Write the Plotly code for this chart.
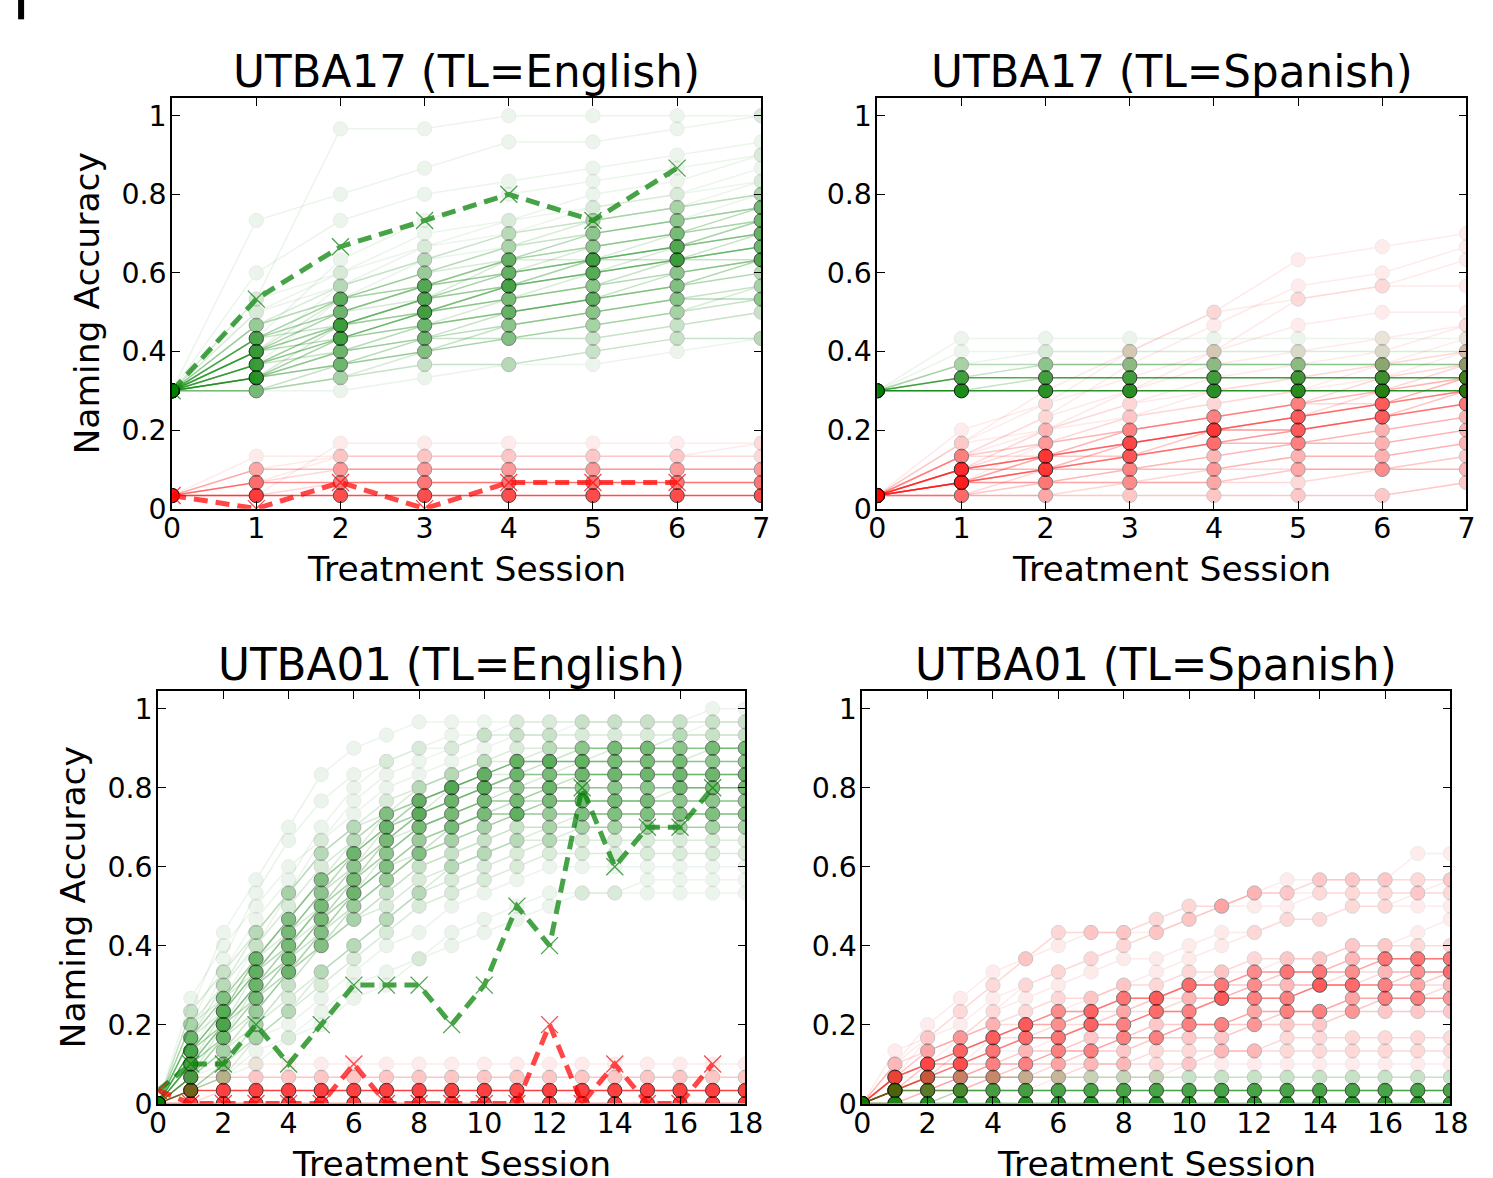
import plotly.graph_objects as go

N_ITEMS = 30  # values below are items named correctly out of 30

# ---------------- UTBA17, TL = English ----------------
A_SESSIONS = list(range(8))
A_GREEN_SIMS = [
    [9, 9, 10, 11, 11, 12, 13, 13],
    [9, 9, 11, 12, 13, 13, 14, 15],
    [9, 10, 11, 13, 14, 15, 16, 16],
    [9, 10, 12, 14, 15, 16, 17, 18],
    [9, 11, 13, 14, 15, 16, 17, 19],
    [9, 11, 12, 13, 13, 14, 15, 16],
    [9, 12, 13, 15, 16, 17, 18, 19],
    [9, 12, 14, 16, 17, 18, 19, 20],
    [9, 13, 14, 15, 17, 19, 19, 21],
    [9, 13, 15, 17, 18, 19, 20, 22],
    [9, 10, 13, 15, 16, 17, 19, 20],
    [9, 11, 14, 16, 18, 19, 20, 21],
    [9, 12, 15, 17, 19, 19, 21, 22],
    [9, 14, 16, 17, 19, 20, 21, 23],
    [9, 14, 16, 18, 19, 21, 22, 23],
    [9, 15, 17, 19, 20, 21, 22, 24],
    [9, 15, 18, 20, 21, 22, 23, 25],
    [9, 16, 18, 21, 22, 23, 24, 25],
    [9, 10, 11, 12, 14, 15, 16, 17],
    [9, 9, 10, 12, 13, 14, 15, 17],
    [9, 18, 22, 24, 25, 26, 27, 28],
    [9, 22, 24, 26, 28, 28, 29, 30],
    [9, 13, 19, 22, 24, 25, 26, 27],
    [9, 11, 16, 19, 21, 23, 24, 26],
    [9, 12, 17, 20, 22, 24, 25, 27],
    [9, 10, 12, 13, 15, 16, 18, 19],
    [9, 9, 9, 10, 11, 11, 12, 13],
    [9, 16, 29, 29, 30, 30, 30, 30],
    [9, 13, 16, 18, 20, 22, 23, 24],
    [9, 11, 13, 15, 17, 18, 19, 19],
    [9, 12, 15, 17, 19, 20, 21, 22],
    [9, 13, 16, 17, 18, 19, 20, 21],
    [9, 11, 14, 15, 17, 18, 19, 20],
    [9, 12, 14, 16, 18, 20, 21, 23],
    [9, 10, 13, 14, 16, 18, 20, 22],
    [9, 13, 15, 16, 19, 21, 22, 23],
    [9, 14, 17, 19, 21, 22, 23, 24],
    [9, 10, 14, 16, 17, 19, 20, 21],
    [9, 12, 16, 18, 20, 21, 22, 23],
]
A_GREEN_COUNTS = [3, 3, 4, 4, 4, 3, 4, 4, 3, 3, 3, 3, 2, 2, 2, 1, 1, 1, 3, 2,
                  1, 1, 1, 1, 1, 3, 1, 1, 2, 3, 3, 3, 3, 2, 2, 2, 2, 2, 2]
A_RED_SIMS = [
    [1, 1, 1, 1, 1, 1, 1, 1],
    [1, 2, 2, 2, 2, 2, 2, 2],
    [1, 3, 3, 3, 3, 3, 3, 3],
    [1, 1, 2, 2, 2, 2, 2, 2],
    [1, 4, 4, 4, 4, 4, 4, 4],
    [1, 2, 3, 3, 3, 3, 3, 3],
    [1, 3, 4, 4, 4, 4, 4, 4],
    [1, 1, 5, 5, 5, 5, 5, 5],
    [1, 2, 4, 4, 4, 4, 4, 5],
]
A_RED_COUNTS = [14, 7, 4, 2, 1, 2, 1, 1, 1]
A_ACTUAL_SESSIONS = list(range(7))
A_GREEN_ACTUAL = [9, 16, 20, 22, 24, 22, 26]
A_RED_ACTUAL = [1, 0, 2, 0, 2, 2, 2]

# ---------------- UTBA17, TL = Spanish ----------------
B_SESSIONS = list(range(8))
B_GREEN_SIMS = [
    [9, 9, 9, 9, 9, 9, 9, 9],
    [9, 10, 10, 10, 10, 10, 10, 10],
    [9, 9, 10, 10, 10, 10, 10, 10],
    [9, 11, 11, 11, 11, 11, 11, 11],
    [9, 10, 11, 11, 11, 11, 11, 11],
    [9, 12, 12, 12, 12, 12, 12, 12],
    [9, 11, 12, 12, 12, 12, 12, 12],
    [9, 13, 13, 13, 13, 13, 13, 13],
]
B_GREEN_COUNTS = [22, 13, 3, 4, 3, 1, 1, 1]
B_RED_SIMS = [
    [1, 1, 1, 1, 1, 1, 1, 2],
    [1, 1, 2, 2, 2, 3, 3, 4],
    [1, 2, 2, 3, 3, 4, 4, 5],
    [1, 2, 3, 3, 4, 5, 5, 6],
    [1, 3, 3, 4, 5, 5, 6, 7],
    [1, 3, 4, 4, 5, 6, 7, 8],
    [1, 2, 3, 4, 6, 6, 7, 8],
    [1, 3, 4, 5, 6, 7, 8, 9],
    [1, 4, 4, 5, 6, 7, 8, 10],
    [1, 2, 4, 6, 7, 8, 8, 9],
    [1, 4, 5, 6, 7, 8, 9, 10],
    [1, 1, 3, 5, 6, 7, 9, 10],
    [1, 3, 5, 6, 7, 8, 10, 11],
    [1, 4, 6, 7, 8, 9, 10, 12],
    [1, 5, 6, 8, 9, 10, 11, 13],
    [1, 2, 5, 7, 9, 10, 11, 12],
    [1, 3, 6, 8, 10, 11, 12, 14],
    [1, 4, 7, 9, 11, 12, 13, 14],
    [1, 5, 8, 10, 12, 14, 15, 15],
    [1, 6, 8, 12, 15, 16, 17, 19],
    [1, 5, 9, 12, 15, 19, 20, 21],
    [1, 4, 7, 11, 14, 17, 18, 20],
    [1, 3, 6, 9, 12, 16, 17, 17],
    [1, 2, 2, 2, 3, 3, 3, 3],
    [1, 1, 1, 2, 2, 2, 3, 3],
    [1, 2, 3, 4, 5, 6, 7, 8],
    [1, 3, 4, 5, 6, 6, 7, 9],
    [1, 2, 4, 5, 6, 7, 8, 9],
    [1, 3, 4, 6, 7, 8, 9, 11],
    [1, 2, 3, 5, 6, 7, 8, 10],
    [1, 4, 5, 7, 8, 9, 11, 12],
]
B_RED_COUNTS = [3, 3, 4, 4, 4, 3, 3, 3, 2, 2, 2, 2, 2, 1, 1, 1, 1, 1, 1, 1,
                1, 1, 1, 2, 2, 3, 3, 3, 2, 2, 1]

# ---------------- UTBA01, TL = English ----------------
C_SESSIONS = list(range(19))
C_GREEN_SIMS = [
    [0, 3, 6, 9, 12, 15, 17, 19, 21, 22, 23, 24, 24, 25, 25, 25, 25, 25, 25],
    [0, 4, 7, 10, 13, 16, 18, 20, 22, 23, 24, 25, 26, 26, 26, 26, 26, 26, 26],
    [0, 5, 8, 11, 14, 17, 19, 21, 23, 24, 25, 26, 26, 27, 27, 27, 27, 27, 27],
    [0, 6, 9, 12, 15, 18, 20, 22, 23, 24, 25, 25, 25, 26, 26, 26, 26, 26, 26],
    [0, 2, 5, 8, 11, 14, 16, 18, 20, 21, 22, 22, 23, 23, 23, 23, 23, 23, 23],
    [0, 3, 5, 7, 10, 12, 15, 17, 19, 21, 22, 23, 24, 24, 24, 24, 24, 24, 24],
    [0, 4, 6, 9, 11, 13, 16, 18, 20, 21, 22, 22, 22, 22, 22, 22, 22, 22, 22],
    [0, 5, 7, 10, 12, 14, 17, 19, 21, 22, 23, 23, 24, 24, 24, 24, 24, 24, 24],
    [0, 7, 10, 13, 16, 19, 21, 23, 24, 25, 26, 27, 27, 27, 27, 27, 28, 28, 28],
    [0, 8, 12, 15, 18, 20, 22, 24, 25, 26, 27, 28, 28, 28, 28, 28, 28, 29, 29],
    [0, 3, 7, 11, 14, 17, 20, 22, 24, 25, 26, 26, 26, 26, 27, 27, 27, 27, 27],
    [0, 1, 3, 6, 9, 12, 14, 16, 18, 19, 20, 21, 21, 21, 21, 21, 21, 21, 21],
    [0, 2, 4, 7, 10, 13, 15, 17, 19, 20, 21, 22, 22, 22, 22, 22, 22, 22, 22],
    [0, 1, 2, 5, 7, 10, 12, 14, 16, 17, 18, 19, 20, 20, 20, 20, 20, 20, 20],
    [0, 2, 4, 6, 8, 10, 12, 14, 16, 18, 19, 20, 20, 21, 21, 21, 21, 21, 21],
    [0, 1, 3, 5, 7, 9, 11, 13, 15, 16, 17, 18, 19, 19, 19, 19, 19, 19, 19],
    [0, 2, 3, 5, 6, 8, 10, 12, 13, 15, 16, 17, 18, 18, 18, 18, 18, 18, 18],
    [0, 1, 2, 4, 5, 7, 9, 10, 11, 13, 14, 15, 16, 16, 16, 17, 17, 17, 17],
    [0, 4, 8, 12, 16, 20, 23, 25, 26, 27, 28, 28, 28, 29, 29, 29, 29, 29, 29],
    [0, 6, 11, 16, 20, 23, 25, 26, 27, 28, 28, 29, 29, 29, 29, 29, 29, 29, 29],
    [0, 5, 10, 14, 17, 21, 24, 26, 27, 27, 28, 28, 28, 28, 28, 28, 28, 28, 28],
    [0, 3, 6, 10, 13, 16, 19, 21, 23, 24, 25, 26, 27, 27, 27, 27, 27, 27, 27],
    [0, 4, 7, 11, 14, 17, 19, 21, 22, 23, 24, 25, 25, 25, 25, 25, 25, 25, 25],
    [0, 2, 5, 9, 12, 15, 18, 20, 22, 23, 24, 24, 25, 25, 25, 25, 25, 25, 25],
    [0, 3, 6, 8, 11, 14, 16, 18, 19, 20, 21, 22, 23, 23, 23, 23, 24, 24, 24],
    [0, 5, 9, 13, 16, 19, 21, 22, 23, 24, 25, 26, 26, 26, 26, 26, 26, 27, 27],
    [0, 1, 2, 3, 5, 6, 8, 9, 11, 12, 13, 14, 15, 16, 16, 16, 16, 16, 16],
    [0, 7, 13, 17, 21, 25, 27, 28, 29, 29, 29, 29, 29, 29, 29, 29, 29, 30, 30],
    [0, 4, 7, 10, 12, 15, 18, 21, 22, 24, 25, 26, 26, 26, 26, 26, 26, 26, 26],
    [0, 5, 8, 11, 13, 16, 19, 22, 23, 24, 24, 24, 24, 24, 24, 24, 24, 24, 24],
    [0, 6, 8, 10, 13, 15, 17, 20, 21, 22, 23, 23, 23, 23, 23, 23, 23, 23, 23],
    [0, 3, 5, 8, 10, 13, 16, 19, 21, 22, 23, 23, 23, 23, 23, 23, 23, 23, 23],
    [0, 2, 6, 9, 11, 14, 17, 20, 22, 23, 24, 25, 25, 25, 25, 25, 25, 25, 25],
    [0, 4, 6, 8, 10, 12, 14, 15, 17, 18, 19, 20, 21, 22, 22, 22, 22, 22, 22],
]
C_GREEN_COUNTS = [3, 3, 3, 2, 3, 3, 3, 2, 2, 1, 2, 3, 3, 2, 2, 2, 1, 1, 1, 1,
                  1, 2, 3, 2, 2, 2, 1, 1, 2, 2, 2, 2, 2, 2]
C_RED_SIMS = [
    [0] * 19,
    [0] + [1] * 18,
    [0, 0, 1] + [1] * 16,
    [0] + [2] * 18,
    [0, 1] + [2] * 17,
    [0] + [3] * 18,
]
C_RED_COUNTS = [14, 12, 2, 2, 1, 1]
C_ACTUAL_SESSIONS = list(range(18))
C_GREEN_ACTUAL = [1, 3, 3, 6, 3, 6, 9, 9, 9, 6, 9, 15, 12, 24, 18, 21, 21, 24]
C_RED_ACTUAL = [1, 0, 0, 0, 0, 0, 3, 0, 0, 0, 0, 0, 6, 0, 3, 0, 0, 3]

# ---------------- UTBA01, TL = Spanish ----------------
D_SESSIONS = list(range(19))
D_RED_SIMS = [
    [0, 1, 2, 3, 4, 5, 5, 6, 6, 7, 7, 8, 8, 8, 9, 9, 9, 10, 10],
    [0, 1, 1, 2, 2, 3, 3, 4, 4, 5, 5, 5, 6, 6, 6, 7, 7, 7, 7],
    [0, 2, 3, 3, 4, 5, 5, 6, 6, 7, 7, 8, 8, 8, 9, 9, 9, 9, 10],
    [0, 2, 3, 4, 5, 6, 6, 7, 8, 8, 9, 9, 9, 10, 10, 10, 11, 11, 11],
    [0, 1, 2, 2, 3, 3, 4, 4, 5, 5, 6, 6, 6, 7, 7, 7, 8, 8, 8],
    [0, 2, 4, 5, 6, 7, 8, 8, 9, 9, 10, 10, 11, 11, 11, 12, 12, 12, 12],
    [0, 3, 4, 5, 6, 6, 7, 7, 8, 8, 9, 9, 10, 10, 10, 11, 11, 11, 11],
    [0, 1, 2, 3, 3, 4, 4, 5, 5, 6, 6, 6, 7, 7, 7, 8, 8, 8, 8],
    [0, 0, 1, 2, 3, 3, 4, 4, 5, 5, 6, 6, 7, 7, 7, 8, 8, 8, 9],
    [0, 1, 1, 1, 2, 2, 3, 3, 3, 4, 4, 4, 4, 5, 5, 5, 5, 5, 5],
    [0, 0, 1, 1, 2, 2, 2, 3, 3, 3, 3, 4, 4, 4, 4, 4, 4, 4, 4],
    [0, 1, 2, 3, 4, 4, 5, 6, 7, 8, 9, 10, 10, 11, 11, 12, 12, 13, 14],
    [0, 2, 4, 5, 7, 8, 9, 10, 11, 11, 12, 13, 13, 14, 14, 15, 15, 15, 15],
    [0, 3, 5, 6, 8, 9, 10, 11, 12, 13, 14, 15, 15, 15, 16, 16, 16, 16, 17],
    [0, 4, 5, 7, 9, 11, 13, 13, 13, 13, 14, 15, 16, 16, 17, 17, 17, 17, 17],
    [0, 1, 3, 5, 7, 9, 10, 11, 12, 13, 14, 15, 16, 16, 17, 17, 17, 17, 17],
    [0, 2, 5, 7, 9, 11, 13, 13, 13, 14, 15, 15, 16, 17, 17, 17, 17, 19, 19],
    [0, 3, 6, 8, 10, 11, 12, 13, 13, 14, 15, 15, 16, 16, 16, 16, 16, 16, 16],
    [0, 1, 2, 4, 5, 6, 7, 7, 8, 8, 9, 9, 10, 10, 10, 11, 11, 11, 11],
    [0, 2, 3, 3, 4, 5, 5, 6, 6, 7, 7, 8, 8, 8, 9, 9, 9, 9, 9],
    [0, 0, 0, 1, 1, 1, 2, 2, 2, 2, 3, 3, 3, 3, 3, 3, 3, 3, 3],
    [0, 1, 2, 3, 5, 6, 7, 8, 9, 10, 11, 12, 13, 14, 14, 15, 15, 16, 16],
    [0, 2, 3, 4, 5, 6, 6, 7, 7, 8, 8, 8, 9, 9, 9, 10, 10, 10, 10],
    [0, 1, 3, 4, 5, 5, 6, 6, 7, 7, 8, 8, 9, 9, 9, 9, 10, 10, 10],
    [0, 2, 3, 4, 5, 6, 7, 7, 8, 8, 9, 9, 10, 10, 10, 10, 11, 11, 11],
]
D_RED_COUNTS = [3, 3, 3, 3, 3, 2, 2, 3, 2, 2, 2, 1, 1, 1, 1, 1, 1, 1, 2, 2,
                1, 1, 2, 2, 2]
D_GREEN_SIMS = [
    [0] * 19,
    [0] + [1] * 18,
    [0, 0, 0] + [1] * 16,
    [0, 1] + [2] * 17,
    [0] + [2] * 18,
]
D_GREEN_COUNTS = [20, 12, 3, 2, 1]

TITLES = ["UTBA17 (TL=English)", "UTBA17 (TL=Spanish)",
          "UTBA01 (TL=English)", "UTBA01 (TL=Spanish)"]
X_LABEL = "Treatment Session"
Y_LABEL = "Naming Accuracy"
Y_TICKS = [0, 0.2, 0.4, 0.6, 0.8, 1.0]
Y_TICK_TEXT = ["0", "0.2", "0.4", "0.6", "0.8", "1"]

# ---------------- styling / layout ----------------
W, H = 1493, 1178
GREEN = "#008000"
RED = "#ff0000"
BASE_ALPHA = 0.08
FONT = "DejaVu Sans"
# correction for the rendering scale observed in the photographed page
SX, AX = 0.9817, 8.9
SY, AY = 0.989, -3.4
FS = 1 / 0.985

# axes boxes in target pixels: left, right, top, bottom
BOXES = [(172, 761, 95, 507), (877, 1466, 95, 507),
         (158, 745, 690, 1104), (862, 1450, 690, 1104)]
XMAX = [7, 7, 18, 18]
DTICK = [1, 1, 2, 2]


def px_x(x):
    return ((x - AX) / SX) / W


def px_y(y):
    return 1 - ((y - AY) / SY) / H


fig = go.Figure()


def add_sims(idx, sessions, sims, counts, color):
    ax = "" if idx == 0 else str(idx + 1)
    for traj, c in zip(sims, counts):
        op = 1 - (1 - BASE_ALPHA) ** c
        fig.add_trace(go.Scatter(
            x=sessions, y=[v / N_ITEMS for v in traj], mode="lines+markers",
            line=dict(color=color, width=1.5),
            marker=dict(size=14 * FS, color=color, line=dict(color="black", width=1)),
            opacity=op, showlegend=False, hoverinfo="skip",
            xaxis="x" + ax, yaxis="y" + ax))


def add_actual(idx, sessions, vals, color):
    ax = "" if idx == 0 else str(idx + 1)
    fig.add_trace(go.Scatter(
        x=sessions, y=[v / N_ITEMS for v in vals], mode="lines+markers",
        line=dict(color=color, width=5, dash="14px,8px"),
        marker=dict(symbol="x-thin", size=17, color=color,
                    line=dict(color=color, width=1.3)),
        opacity=0.72, showlegend=False, hoverinfo="skip",
        xaxis="x" + ax, yaxis="y" + ax))


# Panel A
add_sims(0, A_SESSIONS, A_RED_SIMS, A_RED_COUNTS, RED)
add_sims(0, A_SESSIONS, A_GREEN_SIMS, A_GREEN_COUNTS, GREEN)
add_actual(0, A_ACTUAL_SESSIONS, A_RED_ACTUAL, RED)
add_actual(0, A_ACTUAL_SESSIONS, A_GREEN_ACTUAL, GREEN)
# Panel B
add_sims(1, B_SESSIONS, B_RED_SIMS, B_RED_COUNTS, RED)
add_sims(1, B_SESSIONS, B_GREEN_SIMS, B_GREEN_COUNTS, GREEN)
# Panel C
add_sims(2, C_SESSIONS, C_RED_SIMS, C_RED_COUNTS, RED)
add_sims(2, C_SESSIONS, C_GREEN_SIMS, C_GREEN_COUNTS, GREEN)
add_actual(2, C_ACTUAL_SESSIONS, C_GREEN_ACTUAL, GREEN)
add_actual(2, C_ACTUAL_SESSIONS, C_RED_ACTUAL, RED)
# Panel D
add_sims(3, D_SESSIONS, D_RED_SIMS, D_RED_COUNTS, RED)
add_sims(3, D_SESSIONS, D_GREEN_SIMS, D_GREEN_COUNTS, GREEN)

layout = dict(
    width=W, height=H, margin=dict(l=0, r=0, t=0, b=0),
    paper_bgcolor="white", plot_bgcolor="white",
    font=dict(family=FONT, color="black"),
    showlegend=False, annotations=[], shapes=[],
)

for i, (l, r, t, b) in enumerate(BOXES):
    ax = "" if i == 0 else str(i + 1)
    common = dict(showline=True, linecolor="black", linewidth=1.5, mirror="ticks",
                  ticks="inside", ticklen=8, tickwidth=1.2, tickcolor="black",
                  showgrid=False, zeroline=False,
                  tickfont=dict(family=FONT, size=28 * FS, color="black"))
    layout["xaxis" + ax] = dict(common, domain=[px_x(l), px_x(r)], range=[0, XMAX[i]],
                                dtick=DTICK[i], tick0=0, anchor="y" + ax,
                                ticklabelstandoff=-6)
    layout["yaxis" + ax] = dict(common, domain=[px_y(b), px_y(t)], range=[0, 1.045],
                                tickvals=Y_TICKS, ticktext=Y_TICK_TEXT, anchor="x" + ax,
                                ticklabelstandoff=-2)
    cx = (l + r) / 2
    layout["annotations"].append(dict(
        text=TITLES[i], x=px_x(cx), y=px_y(t - 27), xref="paper", yref="paper",
        xanchor="center", yanchor="middle", showarrow=False,
        font=dict(family=FONT, size=43 * FS, color="black")))
    layout["annotations"].append(dict(
        text=X_LABEL, x=px_x(cx), y=px_y(b + 61), xref="paper", yref="paper",
        xanchor="center", yanchor="middle", showarrow=False,
        font=dict(family=FONT, size=34 * FS, color="black")))
    if i in (0, 2):
        layout["annotations"].append(dict(
            text=Y_LABEL, x=px_x(l - 85), y=px_y((t + b) / 2), xref="paper", yref="paper",
            xanchor="center", yanchor="middle", textangle=-90, showarrow=False,
            font=dict(family=FONT, size=34 * FS, color="black")))

# fragment of a panel letter at the top-left corner
layout["shapes"].append(dict(type="rect", xref="paper", yref="paper",
                             x0=px_x(18), x1=px_x(24), y0=px_y(16), y1=1.0,
                             fillcolor="black", line=dict(width=0)))

fig.update_layout(**layout)
fig.write_html("out.html")
